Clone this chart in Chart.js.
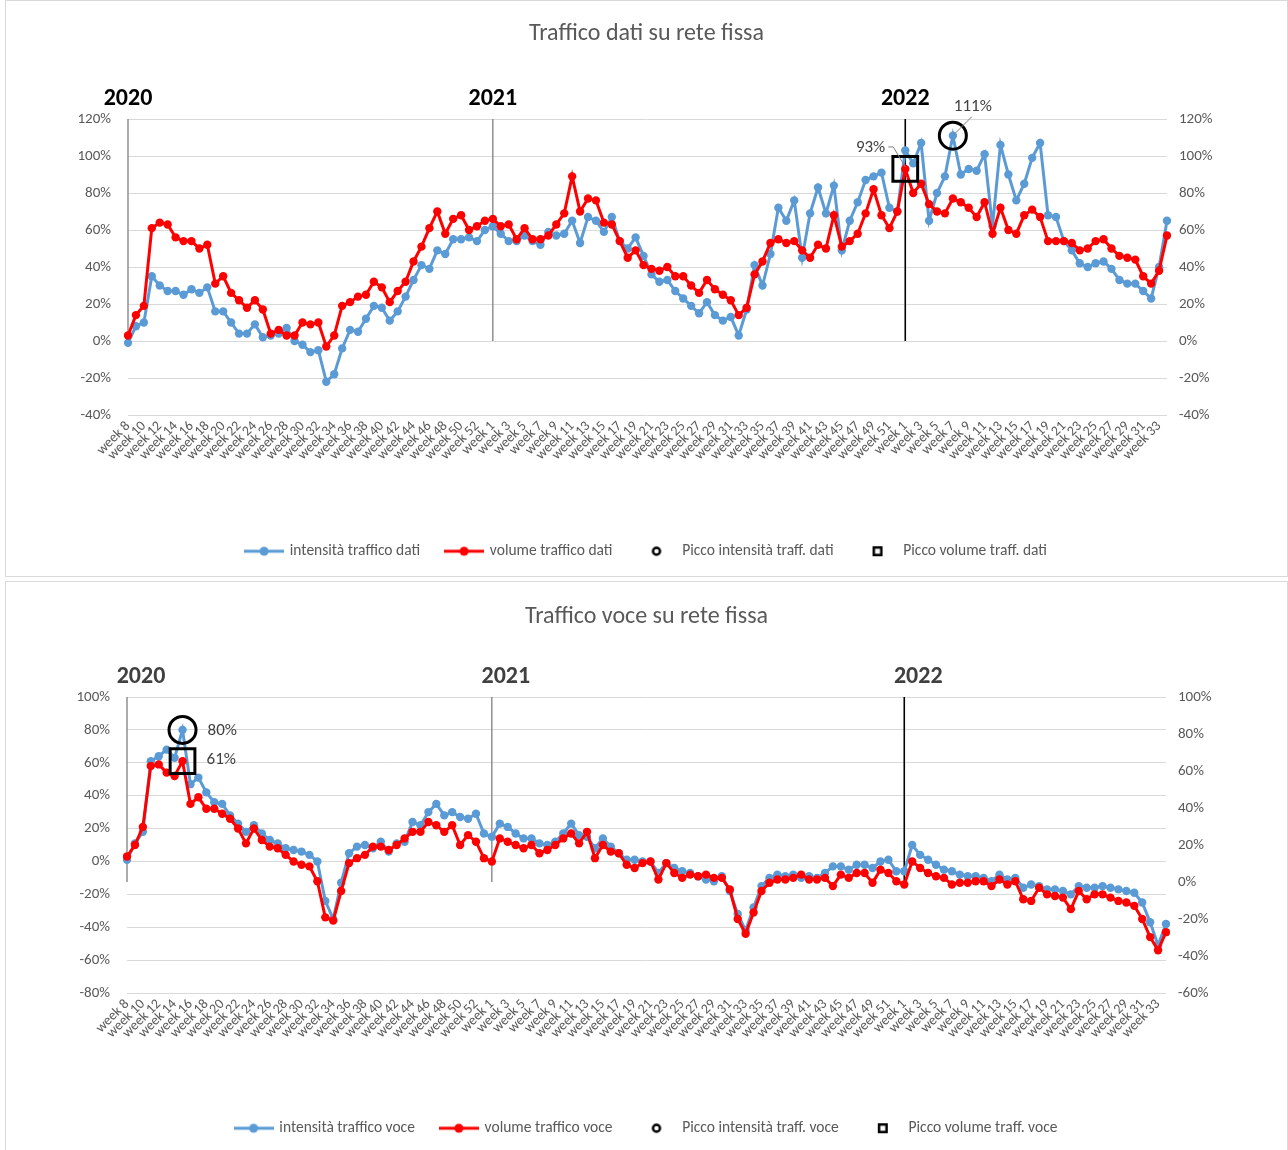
<!DOCTYPE html>
<html lang="it">
<head>
<meta charset="utf-8">
<title>Traffico su rete fissa</title>
<script src="https://cdn.jsdelivr.net/npm/chart.js@4.4.1/dist/chart.umd.min.js"></script>
<style>
  html, body { margin: 0; padding: 0; background: #fff; overflow: hidden; }
  .panel { position: absolute; left: 5px; width: 1283px; border: 1px solid #d9d9d9; box-sizing: border-box; background: #fff; }
  #p1 { top: 0; height: 577px; }
  #p2 { top: 581px; height: 575px; }
  .panel canvas { display: block; }
</style>
</head>
<body>
<div class="panel" id="p1"><canvas id="chartDati"></canvas></div>
<div class="panel" id="p2"><canvas id="chartVoce"></canvas></div>
<script>
// ------------------------------
// Data (values in %)
// ------------------------------
const weekLabels = [];
for (let w = 8; w <= 53; w++) weekLabels.push("week " + w);   // 2020
for (let w = 1; w <= 52; w++) weekLabels.push("week " + w);   // 2021
for (let w = 1; w <= 34; w++) weekLabels.push("week " + w);   // 2022

const yearNames = ["2020", "2021", "2022"];
const yearStartIdx = [0, 46, 98];

const intensitaDati = [
  -1, 8, 10, 35, 30, 27, 27, 25, 28, 26,
  29, 16, 16, 10, 4, 4, 9, 2, 3, 4,
  7, 0, -2, -6, -5, -22, -18, -4, 6, 5,
  12, 19, 18, 11, 16, 24, 33, 41, 39, 49,
  47, 55, 55, 56, 54, 60, 62, 58, 54, 54,
  57, 54, 52, 59, 57, 58, 65, 53, 67, 65,
  59, 67, 54, 50, 56, 46, 36, 32, 33, 27,
  23, 19, 15, 21, 14, 11, 13, 3, 17, 41,
  30, 47, 72, 65, 76, 45, 69, 83, 69, 84,
  49, 65, 75, 87, 89, 91, 72, 70, 103, 96,
  107, 65, 80, 89, 111, 90, 93, 92, 101, 62,
  106, 90, 76, 85, 99, 107, 68, 67, 54, 49,
  42, 40, 42, 43, 39, 33, 31, 31, 27, 23,
  40, 65
];

const volumeDati = [
  3, 14, 19, 61, 64, 63, 56, 54, 54, 50,
  52, 31, 35, 26, 22, 18, 22, 17, 4, 6,
  3, 3, 10, 9, 10, -3, 3, 19, 21, 24,
  25, 32, 29, 21, 27, 32, 43, 51, 61, 70,
  58, 66, 68, 60, 62, 65, 66, 62, 63, 55,
  61, 55, 55, 57, 63, 69, 89, 70, 77, 76,
  64, 63, 54, 45, 49, 41, 39, 38, 40, 35,
  35, 30, 26, 33, 28, 25, 22, 14, 18, 36,
  43, 53, 55, 53, 54, 49, 45, 52, 50, 68,
  51, 54, 58, 69, 82, 68, 61, 70, 93, 80,
  85, 74, 70, 69, 77, 75, 72, 67, 75, 58,
  72, 60, 58, 68, 71, 67, 54, 54, 54, 53,
  49, 50, 54, 55, 50, 46, 45, 44, 35, 31,
  38, 57
];

const intensitaVoce = [
  1, 11, 18, 61, 64, 68, 63, 80, 47, 51,
  42, 36, 35, 28, 23, 18, 22, 17, 13, 11,
  8, 7, 6, 4, 0, -24, -35, -13, 5, 9,
  10, 8, 12, 6, 11, 12, 24, 22, 30, 35,
  28, 30, 27, 26, 29, 17, 15, 23, 21, 17,
  14, 14, 11, 10, 12, 17, 23, 16, 15, 8,
  14, 9, 5, 1, 1, 0, 0, -7, -1, -4,
  -6, -7, -9, -11, -12, -9, -18, -32, -42, -28,
  -15, -10, -8, -9, -8, -10, -9, -10, -7, -3,
  -3, -5, -2, -2, -4, 0, 1, -6, -6, 10,
  4, 1, -2, -5, -6, -8, -9, -9, -10, -12,
  -8, -11, -10, -16, -14, -15, -17, -17, -18, -20,
  -15, -16, -16, -15, -16, -17, -18, -19, -25, -37,
  -51, -38
];

const volumeVoce = [
  3, 10, 21, 58, 59, 54, 52, 61, 35, 39,
  32, 32, 29, 26, 20, 11, 20, 13, 9, 8,
  4, 0, -2, -3, -12, -34, -36, -18, -1, 2,
  4, 9, 9, 7, 10, 14, 18, 18, 24, 22,
  18, 22, 10, 16, 12, 2, 0, 14, 12, 10,
  8, 10, 5, 7, 10, 14, 17, 11, 18, 2,
  10, 6, 5, -2, -4, -1, 0, -11, -1, -7,
  -10, -8, -9, -8, -10, -10, -17, -35, -44, -31,
  -18, -13, -11, -11, -10, -8, -11, -11, -10, -15,
  -8, -10, -7, -7, -13, -5, -7, -12, -14, 0,
  -4, -7, -9, -10, -14, -13, -13, -12, -12, -15,
  -11, -14, -12, -23, -24, -16, -20, -21, -22, -29,
  -18, -23, -20, -20, -22, -24, -25, -27, -35, -46,
  -54, -43
];

// ------------------------------
// Styles
// ------------------------------
const FONT = "Carlito, Calibri, Lato, sans-serif";
const BLUE = "#5b9bd5";
const RED = "#ff0000";
const GREY = "#595959";
const GRID = "#d9d9d9";

Chart.defaults.font.family = FONT;
Chart.defaults.color = GREY;

// keep only the peak value of a series, the rest null
function peakOnly(series) {
  const top = Math.max(...series);
  const at = series.indexOf(top);
  return series.map((v, i) => (i === at ? v : null));
}

// legend symbols drawn like the spreadsheet ones
function lineIcon(color) {
  const c = document.createElement("canvas");
  c.width = 40; c.height = 12;
  const g = c.getContext("2d");
  g.strokeStyle = color; g.lineWidth = 3;
  g.beginPath(); g.moveTo(0, 6); g.lineTo(40, 6); g.stroke();
  g.fillStyle = color;
  g.beginPath(); g.arc(20, 6, 4.5, 0, Math.PI * 2); g.fill();
  return c;
}
function ringIcon() {
  const c = document.createElement("canvas");
  c.width = 12; c.height = 12;
  const g = c.getContext("2d");
  g.strokeStyle = "#000"; g.lineWidth = 2.5;
  g.beginPath(); g.arc(6, 6, 3.5, 0, Math.PI * 2); g.stroke();
  return c;
}
function squareIcon() {
  const c = document.createElement("canvas");
  c.width = 12; c.height = 12;
  const g = c.getContext("2d");
  g.strokeStyle = "#000"; g.lineWidth = 2.5;
  g.strokeRect(2.25, 2.25, 7.5, 7.5);
  return c;
}
const legendIcons = [lineIcon(BLUE), lineIcon(RED), ringIcon(), squareIcon()];

// ------------------------------
// Plugins: year separators, peak labels
// ------------------------------
const yearMarks = {
  id: "yearMarks",
  beforeDatasetsDraw(chart, args, opts) {
    const { ctx, chartArea } = chart;
    const x = chart.scales.x, y1 = chart.scales.y1;
    ctx.save();
    yearStartIdx.forEach((idx, k) => {
      const px = x.getPixelForValue(idx);
      ctx.beginPath();
      ctx.strokeStyle = k === 2 ? "#000" : "#7f7f7f";
      ctx.lineWidth = k === 2 ? 1.6 : 1.3;
      ctx.moveTo(px, y1.getPixelForValue(0));
      ctx.lineTo(px, y1.getPixelForValue(y1.max));
      ctx.stroke();
      ctx.font = "bold 24px " + FONT;
      ctx.fillStyle = opts.color;
      ctx.textAlign = "center";
      ctx.textBaseline = "middle";
      ctx.fillText(yearNames[k], px + opts.shift, chartArea.top - 20);
    });
    ctx.restore();
  }
};

const peakNotes = {
  id: "peakNotes",
  afterDatasetsDraw(chart, args, opts) {
    const { ctx } = chart;
    ctx.save();
    (opts.notes || []).forEach(n => {
      const data = chart.data.datasets[n.dataset].data;
      const idx = data.findIndex(v => v !== null);
      const pt = chart.getDatasetMeta(n.dataset).data[idx];
      if (n.leader) {
        ctx.beginPath();
        ctx.strokeStyle = "#7f7f7f";
        ctx.lineWidth = 1;
        n.leader.forEach(([dx, dy], j) => {
          if (j === 0) ctx.moveTo(pt.x + dx, pt.y + dy);
          else ctx.lineTo(pt.x + dx, pt.y + dy);
        });
        ctx.stroke();
      }
      ctx.font = "17px " + FONT;
      ctx.fillStyle = "#404040";
      ctx.textAlign = n.align;
      ctx.textBaseline = "middle";
      ctx.fillText(Math.round(data[idx]) + "%", pt.x + n.dx, pt.y + n.dy);
    });
    ctx.restore();
  }
};

// ------------------------------
// Chart builder
// ------------------------------
function makeChart(id, s) {
  const xFont = { size: 14 };
  const yFont = { size: 15 };
  return new Chart(document.getElementById(id), {
    type: "line",
    data: {
      labels: weekLabels,
      datasets: [
        {
          label: s.names[0],
          data: s.intensita,
          borderColor: BLUE,
          backgroundColor: BLUE,
          borderWidth: 3,
          pointRadius: 4.2,
          pointBorderWidth: 0,
          yAxisID: "y",
          order: 2
        },
        {
          label: s.names[1],
          data: s.volume,
          borderColor: RED,
          backgroundColor: RED,
          borderWidth: 3,
          pointRadius: 4.2,
          pointBorderWidth: 0,
          yAxisID: "y",
          order: 1
        },
        {
          label: s.names[2],
          data: peakOnly(s.intensita),
          showLine: false,
          pointStyle: "circle",
          pointRadius: 13.5,
          borderColor: "#000",
          backgroundColor: "rgba(0,0,0,0)",
          borderWidth: 3,
          yAxisID: "y",
          order: 0
        },
        {
          label: s.names[3],
          data: peakOnly(s.volume),
          showLine: false,
          pointStyle: "rect",
          pointRadius: 17.5,
          borderColor: "#000",
          backgroundColor: "rgba(0,0,0,0)",
          borderWidth: 3,
          yAxisID: "y",
          order: 0
        }
      ]
    },
    options: {
      responsive: true,
      maintainAspectRatio: false,
      animation: false,
      events: [],
      layout: { padding: { left: 0, right: 0, top: 0, bottom: s.padBottom } },
      plugins: {
        title: {
          display: true,
          text: s.title,
          color: GREY,
          font: { size: 24, weight: "normal" },
          padding: { top: s.titleTop, bottom: s.plotTop - s.titleTop - 28.8 }
        },
        legend: {
          position: "bottom",
          labels: {
            usePointStyle: true,
            pointStyleWidth: 36,
            padding: 26,
            color: GREY,
            font: { size: 15.5 },
            sort: (a, b) => a.datasetIndex - b.datasetIndex,
            generateLabels(chart) {
              const items = Chart.defaults.plugins.legend.labels.generateLabels(chart);
              return items.map(it => Object.assign(it, { pointStyle: legendIcons[it.datasetIndex] }));
            }
          }
        },
        tooltip: { enabled: false },
        yearMarks: { color: s.yearColor, shift: s.yearShift },
        peakNotes: { notes: s.notes }
      },
      scales: {
        x: {
          offset: false,
          grid: { display: false, drawTicks: false },
          border: { display: false },
          ticks: {
            autoSkip: false,
            minRotation: 45,
            maxRotation: 45,
            padding: 3,
            color: GREY,
            font: xFont,
            callback: (v, i) => (i % 2 === 0 ? weekLabels[i] : "")
          },
          afterFit: (sc) => {
            sc.height = sc.chart.height - s.plotBottom - sc.chart.legend.height - s.padBottom;
          }
        },
        y: {
          type: "linear",
          position: "left",
          min: s.yMin,
          max: s.yMax,
          grid: { color: GRID, lineWidth: 1, drawTicks: false },
          border: { display: false },
          ticks: { stepSize: 20, padding: 17, color: GREY, font: yFont, callback: v => v + "%" },
          afterFit: (sc) => { sc.width = s.plotLeft; }
        },
        y1: {
          type: "linear",
          position: "right",
          min: s.y1Min,
          max: s.y1Max,
          grid: { drawOnChartArea: false, drawTicks: false },
          border: { display: false },
          ticks: { stepSize: 20, padding: 12, color: GREY, font: yFont, callback: v => v + "%" },
          afterFit: (sc) => { sc.width = sc.chart.width - s.plotRight; }
        }
      }
    },
    plugins: [yearMarks, peakNotes]
  });
}

makeChart("chartDati", {
  title: "Traffico dati su rete fissa",
  names: ["intensità traffico dati", "volume traffico dati", "Picco intensità traff. dati", "Picco volume traff. dati"],
  intensita: intensitaDati,
  volume: volumeDati,
  yMin: -40, yMax: 120, y1Min: -40, y1Max: 120,
  titleTop: 19, plotTop: 118, plotBottom: 414, plotLeft: 122, plotRight: 1161,
  padBottom: 7,
  yearColor: "#000", yearShift: 0,
  notes: [
    { dataset: 2, align: "center", dx: 20, dy: -29, leader: [[1, -1], [19, -19]] },
    { dataset: 3, align: "right", dx: -20, dy: -21, leader: [[-17, -22], [-12, -22], [0, -2]] }
  ]
});

makeChart("chartVoce", {
  title: "Traffico voce su rete fissa",
  names: ["intensità traffico voce", "volume traffico voce", "Picco intensità traff. voce", "Picco volume traff. voce"],
  intensita: intensitaVoce,
  volume: volumeVoce,
  yMin: -80, yMax: 100, y1Min: -60, y1Max: 100,
  titleTop: 21, plotTop: 115, plotBottom: 411, plotLeft: 121, plotRight: 1160,
  padBottom: 9,
  yearColor: "#404040", yearShift: 14,
  notes: [
    { dataset: 2, align: "left", dx: 25, dy: 1 },
    { dataset: 3, align: "left", dx: 24, dy: -1 }
  ]
});
</script>
</body>
</html>
